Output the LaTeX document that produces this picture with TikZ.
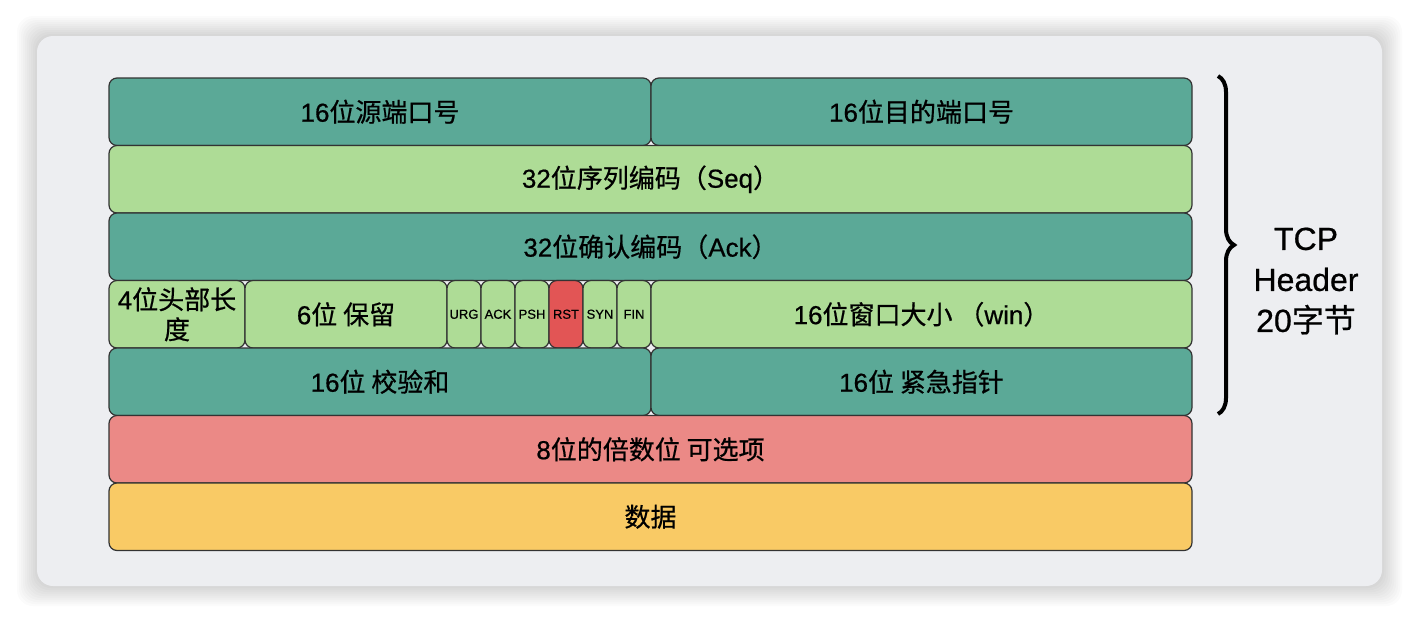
\documentclass[tikz,border=0pt]{standalone}
\usepackage{fontspec}
\setmainfont{Liberation Sans}[FakeBold=0.6]
\newfontfamily\cjk{Noto Sans CJK SC}[FakeBold=0.6]
\usetikzlibrary{decorations.pathreplacing}

\newcommand{\zh}[1]{{\cjk #1}}
\definecolor{tealrow}{HTML}{5BA997}
\definecolor{greenrow}{HTML}{AEDC96}
\definecolor{pinkrow}{HTML}{EB8986}
\definecolor{datarow}{HTML}{F9CA65}
\definecolor{rstflag}{HTML}{E25555}
\definecolor{panelgray}{HTML}{EDEEF1}

\begin{document}
\begin{tikzpicture}[x=0.5pt,y=-0.5pt,
  field/.style={draw=black!80,line width=0.6pt,rounded corners=4pt,anchor=north west,
    minimum height=33.75pt,inner sep=1pt,outer sep=0pt,
    font=\fontsize{13}{15}\selectfont,text=black},
  flag/.style={field,minimum width=17pt,font=\fontsize{6.5}{8}\selectfont}]
  % page and panel
  \useasboundingbox (0,0) rectangle (1418,622);
  \fill[white] (0,0) rectangle (1418,622);
  \foreach \s in {1,...,10}
    \fill[black,opacity=0.014,rounded corners=8pt] (37-2*\s,36-2*\s) rectangle (1382+2*\s,586+2*\s);
  \fill[panelgray,rounded corners=8pt] (37,36) rectangle (1382,586);
  % header rows
  \node[field,fill=tealrow,minimum width=271pt] (sport) at (109,78) {16\zh{位源端口号}};
  \node[field,fill=tealrow,minimum width=270.5pt] (dport) at (651,78) {16\zh{位目的端口号}};
  \node[field,fill=greenrow,minimum width=541.5pt] (seq) at (109,145.5) {32\zh{位序列编码（}Seq\zh{）}};
  \node[field,fill=tealrow,minimum width=541.5pt] (ack) at (109,213) {32\zh{位确认编码（}Ack\zh{）}};
  \node[field,fill=greenrow,minimum width=68pt,align=center] (hlen) at (109,280.5) {4\zh{位头部长}\\\zh{度}};
  \node[field,fill=greenrow,minimum width=101pt] (resv) at (245,280.5) {6\zh{位 保留}};
  \foreach \f/\c [count=\i from 0] in {URG/greenrow,ACK/greenrow,PSH/greenrow,RST/rstflag,SYN/greenrow,FIN/greenrow}
    \node[flag,fill=\c] (f\f) at (447+34*\i,280.5) {\f};
  \node[field,fill=greenrow,minimum width=270.5pt] (win) at (651,280.5) {16\zh{位窗口大小 （}win\zh{）}};
  \node[field,fill=tealrow,minimum width=271pt] (csum) at (109,348) {16\zh{位 校验和}};
  \node[field,fill=tealrow,minimum width=270.5pt] (urgp) at (651,348) {16\zh{位 紧急指针}};
  % options and payload
  \node[field,fill=pinkrow,minimum width=541.5pt] (opt) at (109,415.5) {8\zh{位的倍数位 可选项}};
  \node[field,fill=datarow,minimum width=541.5pt] (data) at (109,483) {\zh{数据}};
  % brace
  \coordinate (btop) at (1218,76);
  \coordinate (bbot) at (1218,414);
  \draw[decorate,decoration={brace,amplitude=8pt},line width=2pt] (btop) -- (bbot);
  \node[align=center,font=\fontsize{16}{20.5}\selectfont] (hdr) at (1306,281) {TCP\\Header\\20\zh{字节}};
\end{tikzpicture}
\end{document}
